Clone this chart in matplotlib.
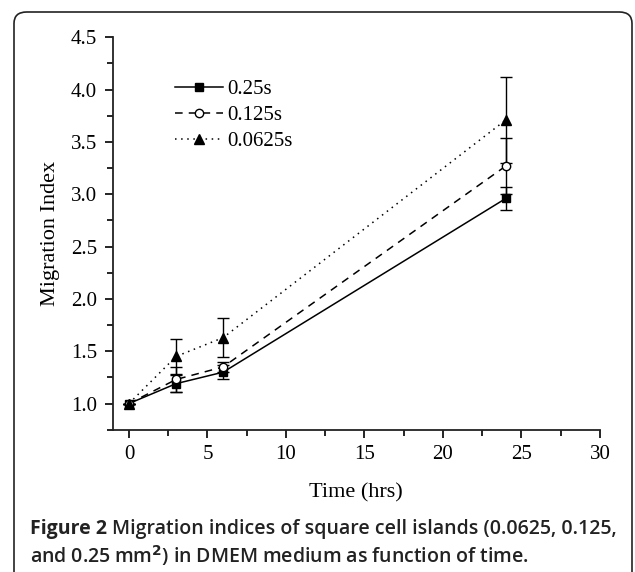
import matplotlib
matplotlib.use('Agg')
from matplotlib import pyplot as plt
from matplotlib.patches import FancyBboxPatch
from matplotlib.ticker import MultipleLocator

# data
time_hrs = [0, 3, 6, 24]
idx_025 = [1.0, 1.19, 1.30, 2.96]
err_025 = [0.0, 0.08, 0.07, 0.11]
idx_0125 = [1.0, 1.23, 1.35, 3.27]
err_0125 = [0.0, 0.12, 0.05, 0.27]
idx_00625 = [1.0, 1.45, 1.63, 3.71]
err_00625 = [0.0, 0.17, 0.19, 0.41]
labels = ['0.25s', '0.125s', '0.0625s']

serif = 'Liberation Serif'
sans = 'Open Sans'

fig = plt.figure(figsize=(6.35, 5.72), dpi=100)

# rounded frame around the figure
frame = FancyBboxPatch((14 / 635, -0.05), 618 / 635, 1 - 12 / 572 + 0.05,
                       boxstyle='round,pad=0,rounding_size=0.02',
                       transform=fig.transFigure, fill=False,
                       edgecolor='#222222', linewidth=1.2)
fig.patches.append(frame)

ax = fig.add_axes([112.5 / 635, 1 - 429.7 / 572, (600 - 112.5) / 635, (429.7 - 37.3) / 572])

e1 = ax.errorbar(time_hrs, idx_025, yerr=err_025, color='black', linestyle='-', linewidth=1.1,
                 marker='s', markersize=6, capsize=4, elinewidth=1)
e2 = ax.errorbar(time_hrs, idx_0125, yerr=err_0125, color='black', linestyle=(0, (5, 4)), linewidth=1.1,
                 marker='o', markersize=6, markerfacecolor='white', capsize=4, elinewidth=1)
e3 = ax.errorbar(time_hrs, idx_00625, yerr=err_00625, color='black', linestyle=(0, (1, 3)), linewidth=1.1,
                 marker='^', markersize=7, capsize=4, elinewidth=1)

ax.set_xlim(-1.05, 30)
ax.set_ylim(0.75, 4.5)
ax.xaxis.set_major_locator(MultipleLocator(5))
ax.xaxis.set_minor_locator(MultipleLocator(2.5))
ax.yaxis.set_minor_locator(MultipleLocator(0.25))
ax.spines['top'].set_visible(False)
ax.spines['right'].set_visible(False)
for s in ['left', 'bottom']:
    ax.spines[s].set_linewidth(1.3)
    ax.spines[s].set_color('#222222')
ax.tick_params(which='major', direction='out', length=6, width=1.2, labelsize=15, pad=5)
ax.tick_params(which='minor', direction='out', length=4, width=1.2)
yt = [1.0, 1.5, 2.0, 2.5, 3.0, 3.5, 4.0, 4.5]
ax.set_yticks(yt)
ax.set_yticklabels(['%.1f' % v for v in yt])
for t in ax.get_xticklabels() + ax.get_yticklabels():
    t.set_fontfamily(serif)

ax.set_xlabel('Time (hrs)', fontfamily=serif, fontsize=16, labelpad=14)
ax.set_ylabel('Migration Index', fontfamily=serif, fontsize=16, labelpad=8)

ax.legend(handles=[e1[0], e2[0], e3[0]], labels=labels, loc='upper left',
          bbox_to_anchor=(0.09, 0.94), frameon=False,
          prop={'family': serif, 'size': 15}, handlelength=2.3,
          handletextpad=0.2, labelspacing=0.3)

cap1 = fig.text(30 / 635, 1 - 529 / 572, 'Figure 2', fontsize=14, fontweight='bold',
                va='center', fontfamily=sans, color='#222222')
fig.canvas.draw()
bb = cap1.get_window_extent()
fig.text((bb.x1 + 5) / 635, 1 - 529 / 572,
         'Migration indices of square cell islands (0.0625, 0.125,',
         fontsize=14, fontweight='semibold', va='center', fontfamily=sans, color='#222222')
fig.text(30 / 635, 1 - 556 / 572,
         r'and 0.25 mm$^{\mathbf{2}}$) in DMEM medium as function of time.',
         fontsize=14, fontweight='semibold', va='center', fontfamily=sans, color='#222222')

fig.savefig('out.png', dpi=100)
